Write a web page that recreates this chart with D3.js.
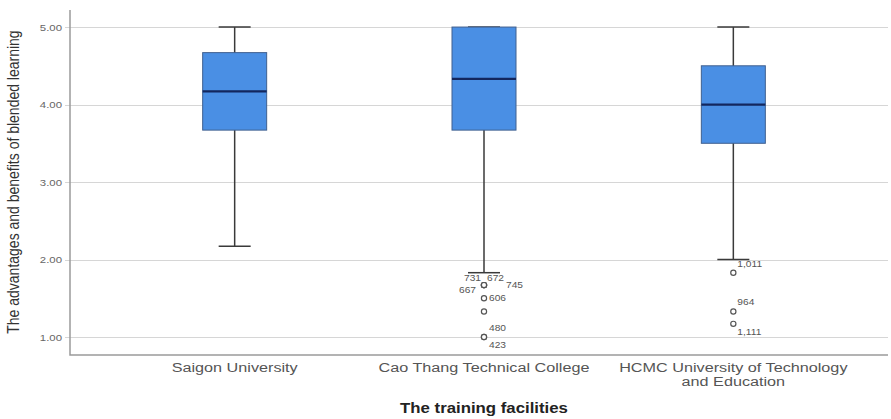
<!DOCTYPE html>
<meta charset="utf-8">
<style>
  body { margin: 0; background: #fff; }
  text { font-family: "Liberation Sans", Arial, sans-serif; }
</style>
<svg width="891" height="419"></svg>
<script src="https://d3js.org/d3.v7.min.js"></script>
<script>

    // facilities on the x axis (second line of a label after "|")
    var facilities = ["Saigon University", "Cao Thang Technical College", "HCMC University of Technology|and Education"];

    // five-number summaries
    var whiskerLow = [2.17, 1.83, 2.00];
    var q1 = [3.67, 3.67, 3.50];
    var median = [4.17, 4.33, 4.00];
    var q3 = [4.67, 5.00, 4.50];
    var whiskerHigh = [5.00, 5.00, 5.00];

    // outliers: facility index, value, case label
    var outlierFacility = [1, 1, 1, 1, 1, 1, 1, 1, 2, 2, 2];
    var outlierValue = [1.67, 1.67, 1.67, 1.67, 1.50, 1.33, 1.00, 1.00, 1.83, 1.33, 1.17];
    var outlierCase = ["731", "672", "667", "745", "606", "", "480", "423", "1,011", "964", "1,111"];

    var yTicks = [1, 2, 3, 4, 5];

    // label offsets from the circle (placement only)
    var labelOffset = {
        "731": [-20, -4], "672": [3, -4], "667": [-25, 8], "745": [22, 3],
        "606": [5, 3], "480": [5, -6], "423": [5, 11],
        "1,011": [4, -6], "964": [4, -6], "1,111": [4, 11]
    };

    var svg = d3.select("svg"),
        plotL = 70, plotR = 888, plotT = 10, plotB = 355,
        stretch = 1.2;   // the reference text is drawn wide

    var x = d3.scalePoint()
        .domain(facilities)
        .range([110, 858])
        .padding(0.5);

    var y = d3.scaleLinear()
        .domain([0.768, 5.22])
        .range([plotB, plotT]);

    var boxW = 64, capW = 32;

    function wideText(parent, px, py) {
        return parent.append("g")
            .attr("transform", "translate(" + px + "," + py + ") scale(" + stretch + ",1)")
            .append("text");
    }

    // grid lines
    svg.append("g")
        .selectAll("line")
        .data(yTicks)
        .join("line")
        .attr("x1", plotL - 5).attr("x2", plotR)
        .attr("y1", function(d) { return Math.round(y(d)) + 0.5; })
        .attr("y2", function(d) { return Math.round(y(d)) + 0.5; })
        .attr("stroke", "#d6d6d6")
        .attr("stroke-width", 1);

    // tick labels
    var tickG = svg.append("g");
    yTicks.forEach(function(d) {
        wideText(tickG, 62, y(d) + 3.5)
            .attr("text-anchor", "end")
            .attr("font-size", 9.5)
            .attr("fill", "#666")
            .text(d3.format(".2f")(d));
    });

    // axis frame
    svg.append("path")
        .attr("d", "M" + plotL + "," + plotT + "V" + plotB + "H" + plotR)
        .attr("fill", "none")
        .attr("stroke", "#9a9a9a")
        .attr("stroke-width", 1.5);

    var boxes = svg.append("g")
        .selectAll("g")
        .data(facilities)
        .join("g");

    // whiskers
    boxes.append("line")
        .attr("x1", function(d) { return x(d); })
        .attr("x2", function(d) { return x(d); })
        .attr("y1", function(d, i) { return y(whiskerHigh[i]); })
        .attr("y2", function(d, i) { return y(whiskerLow[i]); })
        .attr("stroke", "#3a3a3a")
        .attr("stroke-width", 1.5);

    [whiskerHigh, whiskerLow].forEach(function(arr) {
        boxes.append("line")
            .attr("x1", function(d) { return x(d) - capW / 2; })
            .attr("x2", function(d) { return x(d) + capW / 2; })
            .attr("y1", function(d, i) { return y(arr[i]); })
            .attr("y2", function(d, i) { return y(arr[i]); })
            .attr("stroke", "#3a3a3a")
            .attr("stroke-width", 1.5);
    });

    boxes.append("rect")
        .attr("x", function(d) { return x(d) - boxW / 2; })
        .attr("y", function(d, i) { return y(q3[i]); })
        .attr("width", boxW)
        .attr("height", function(d, i) { return y(q1[i]) - y(q3[i]); })
        .attr("fill", "#4a8fe4")
        .attr("stroke", "#40608f")
        .attr("stroke-width", 1);

    boxes.append("line")
        .attr("x1", function(d) { return x(d) - boxW / 2; })
        .attr("x2", function(d) { return x(d) + boxW / 2; })
        .attr("y1", function(d, i) { return y(median[i]); })
        .attr("y2", function(d, i) { return y(median[i]); })
        .attr("stroke", "#13275e")
        .attr("stroke-width", 2.2);

    // outliers
    var outliers = outlierValue.map(function(v, i) {
        return { f: facilities[outlierFacility[i]], v: v, id: outlierCase[i] };
    });

    svg.append("g")
        .selectAll("circle")
        .data(outliers)
        .join("circle")
        .attr("cx", function(d) { return x(d.f); })
        .attr("cy", function(d) { return y(d.v); })
        .attr("r", 2.6)
        .attr("fill", "#fff")
        .attr("stroke", "#555")
        .attr("stroke-width", 1.2);

    var labG = svg.append("g");
    outliers.filter(function(d) { return d.id; }).forEach(function(d) {
        wideText(labG, x(d.f) + labelOffset[d.id][0], y(d.v) + labelOffset[d.id][1])
            .attr("font-size", 8.5)
            .attr("fill", "#555")
            .text(d.id);
    });

    // category labels
    var catG = svg.append("g");
    facilities.forEach(function(f) {
        var t = wideText(catG, x(f), 372)
            .attr("text-anchor", "middle")
            .attr("font-size", 13.5)
            .attr("fill", "#555");
        t.selectAll("tspan")
            .data(f.split("|"))
            .join("tspan")
            .attr("x", 0)
            .attr("dy", function(d, i) { return i ? 14.5 : 0; })
            .text(function(d) { return d; });
    });

    // axis titles
    wideText(svg, (110 + 858) / 2, 413)
        .attr("text-anchor", "middle")
        .attr("font-size", 14)
        .attr("font-weight", "bold")
        .attr("fill", "#222")
        .text("The training facilities");

    svg.append("text")
        .attr("transform", "translate(19," + ((y(5) + y(1)) / 2) + ") rotate(-90) scale(1," + stretch + ")")
        .attr("text-anchor", "middle")
        .attr("font-size", 14)
        .attr("fill", "#333")
        .text("The advantages and benefits of blended learning");
</script>
